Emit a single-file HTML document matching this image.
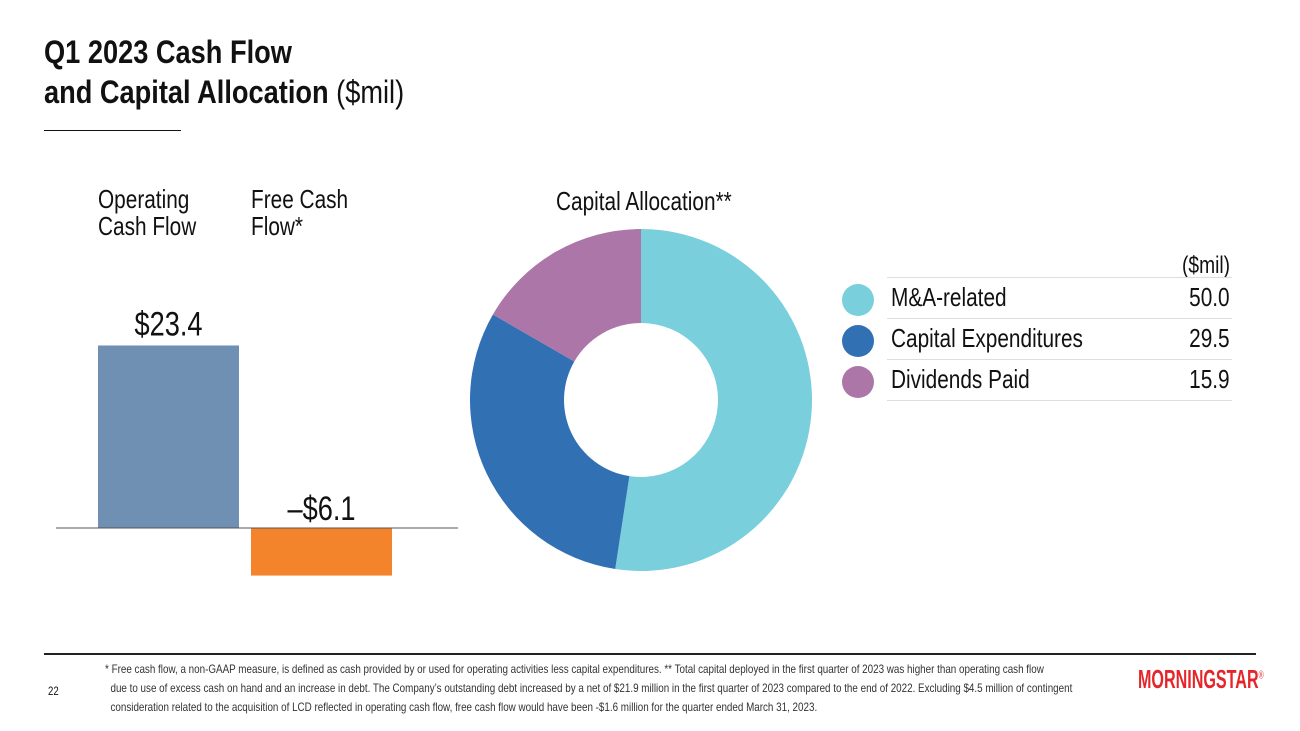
<!DOCTYPE html>
<html><head><meta charset="utf-8"><style>
body{margin:0;width:1300px;height:731px;background:#fff;position:relative;overflow:hidden;font-family:"Liberation Sans",sans-serif;color:#111}
.t{position:absolute;white-space:nowrap;transform:scaleX(.8);transform-origin:left top}
.r{transform-origin:right top}
</style></head><body>
<div class="t" style="left:44px;top:32px;font-size:32px;font-weight:bold;line-height:40px;transform:scaleX(.85)">Q1 2023 Cash Flow<br>and Capital Allocation <span style="font-weight:normal">($mil)</span></div>
<div style="position:absolute;left:44px;top:130px;width:137px;height:1px;background:#111"></div>
<div class="t" style="left:98px;top:186px;font-size:26px;line-height:27px">Operating<br>Cash Flow</div>
<div class="t" style="left:251px;top:186px;font-size:26px;line-height:27px">Free Cash<br>Flow*</div>
<div class="t" style="left:556px;top:186px;font-size:26px">Capital Allocation**</div>
<svg id="chart" width="1300" height="731" style="position:absolute;left:0;top:0"></svg>
<div class="t r" style="right:70px;top:252px;font-size:24px">($mil)</div>
<div id="legend"></div>
<div style="position:absolute;left:44px;top:653px;width:1212px;height:2px;background:#222"></div>
<div class="t" style="left:48px;top:684px;font-size:12px">22</div>
<div class="t" style="left:105px;top:660px;font-size:12px;line-height:19px;color:#333;transform:scaleX(.82)">* Free cash flow, a non-GAAP measure, is defined as cash provided by or used for operating activities less capital expenditures. ** Total capital deployed in the first quarter of 2023 was higher than operating cash flow<br>&nbsp; due to use of excess cash on hand and an increase in debt. The Company’s outstanding debt increased by a net of $21.9 million in the first quarter of 2023 compared to the end of 2022. Excluding $4.5 million of contingent<br>&nbsp; consideration related to the acquisition of LCD reflected in operating cash flow, free cash flow would have been -$1.6 million for the quarter ended March 31, 2023.</div>
<div class="t" style="left:1138px;top:664px;font-size:26px;font-weight:bold;color:#e4262b;transform:scaleX(.62)">MORNINGSTAR<sup style="font-size:11px;font-weight:normal">®</sup></div>
<script>
const barCats=["Operating Cash Flow","Free Cash Flow"];
const barVals=[23.4,-6.1];
const barLabels=["$23.4","–$6.1"];
const pieCats=["M&A-related","Capital Expenditures","Dividends Paid"];
const pieVals=[50.0,29.5,15.9];
const NS="http://www.w3.org/2000/svg";
const svg=document.getElementById('chart');
function mk(t,a){const e=document.createElementNS(NS,t);for(const k in a)e.setAttribute(k,a[k]);svg.appendChild(e);return e;}
const base=528,k=7.8;
const y=v=>base-v*k;
const barColors=["#6f8fb3","#f4842b"];
barVals.forEach((v,i)=>{
  const x=98+i*153;
  const r=mk('rect',{x:x,y:Math.min(y(v),base),width:141,height:Math.abs(y(v)-base),fill:barColors[i]});
  
  
  const ty=v>=0?y(v)-10:base-8;
  const t=mk('text',{x:(x+70.5)/0.8,y:ty,'text-anchor':'middle','font-size':34,fill:'#111',transform:'scale(0.8,1)'});
  t.textContent=barLabels[i];
  
  
});
const ax=mk('line',{x1:56,x2:458,y1:base,y2:base,stroke:'#555','stroke-width':1});


const pieColors=["#7acfdd","#3170b3","#ad76a8"];
const cx=641,cy=400,R=171,ri=77;
const tot=pieVals.reduce((a,b)=>a+b,0);
let a0=-Math.PI/2;
pieVals.forEach((v,i)=>{
  const a1=a0+v/tot*2*Math.PI;
  const lg=(a1-a0)>Math.PI?1:0;
  const p=(r,a)=>(cx+r*Math.cos(a)).toFixed(2)+' '+(cy+r*Math.sin(a)).toFixed(2);
  const d=`M${p(R,a0)}A${R} ${R} 0 ${lg} 1 ${p(R,a1)}L${p(ri,a1)}A${ri} ${ri} 0 ${lg} 0 ${p(ri,a0)}Z`;
  const s=mk('path',{d:d,fill:pieColors[i]});
  
  
  a0=a1;
});
const lg=document.getElementById('legend');
pieCats.forEach((c,i)=>{
  const top=277+i*41;
  const row=document.createElement('div');
  
  
  row.style.cssText=`position:absolute;left:842px;top:${top}px;width:390px;height:41px`;
  row.innerHTML=`<div style="position:absolute;left:0;top:7px;width:32px;height:32px;border-radius:50%;background:${pieColors[i]}"></div>
  <div style="position:absolute;left:45px;top:0;width:345px;height:1px;background:#ddd"></div>
  <div class="t" style="left:49px;top:5px;font-size:26px">${c.replace('&','&amp;')}</div>
  <div class="t r" style="right:2px;top:5px;font-size:26px">${pieVals[i].toFixed(1)}</div>
  ${i==pieCats.length-1?'<div style="position:absolute;left:45px;top:41px;width:345px;height:1px;background:#ddd"></div>':''}`;
  lg.appendChild(row);
});
</script>
</body></html>
